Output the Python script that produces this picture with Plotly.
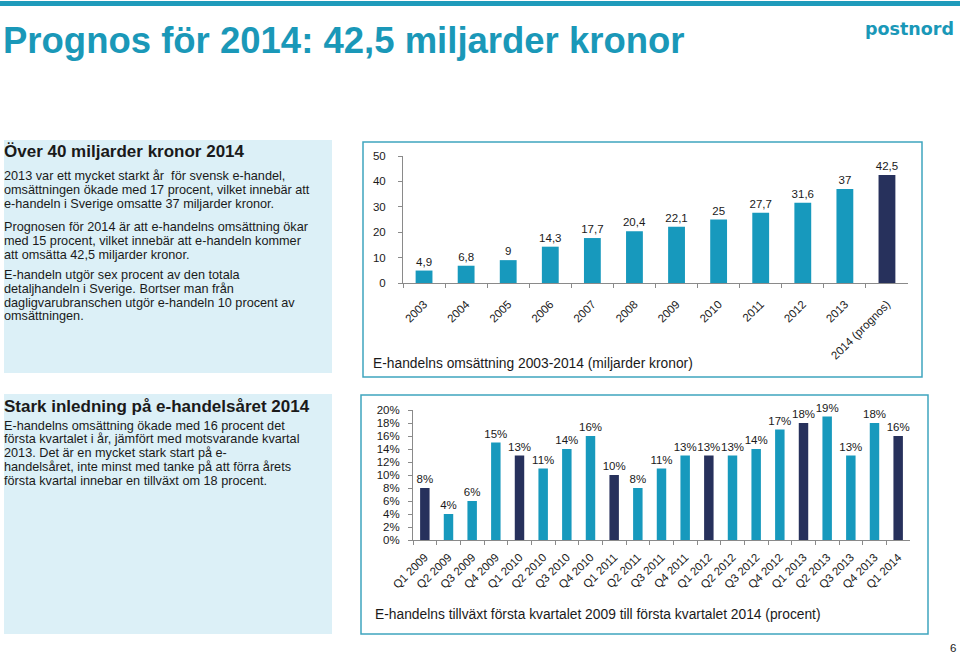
import plotly.graph_objects as go

W, H = 960, 654

# ---------------- data ----------------
years = ["2003", "2004", "2005", "2006", "2007", "2008", "2009", "2010",
         "2011", "2012", "2013", "2014 (prognos)"]
turnover = [4.9, 6.8, 9, 14.3, 17.7, 20.4, 22.1, 25, 27.7, 31.6, 37, 42.5]
turnover_forecast = [False] * 11 + [True]

quarters = ["Q1 2009", "Q2 2009", "Q3 2009", "Q4 2009",
            "Q1 2010", "Q2 2010", "Q3 2010", "Q4 2010",
            "Q1 2011", "Q2 2011", "Q3 2011", "Q4 2011",
            "Q1 2012", "Q2 2012", "Q3 2012", "Q4 2012",
            "Q1 2013", "Q2 2013", "Q3 2013", "Q4 2013",
            "Q1 2014"]
growth = [8, 4, 6, 15, 13, 11, 14, 16, 10, 8, 11, 13, 13, 13, 14, 17, 18, 19, 13, 18, 16]

title_text = "Prognos för 2014: 42,5 miljarder kronor"
box1_head = "Över 40 miljarder kronor 2014"
box1_lines = [
    "2013 var ett mycket starkt år  för svensk e-handel,",
    "omsättningen ökade med 17 procent, vilket innebär att",
    "e-handeln i Sverige omsatte 37 miljarder kronor.",
    "Prognosen för 2014 är att e-handelns omsättning ökar",
    "med 15 procent, vilket innebär att e-handeln kommer",
    "att omsätta 42,5 miljarder kronor.",
    "E-handeln utgör sex procent av den totala",
    "detaljhandeln i Sverige. Bortser man från",
    "dagligvarubranschen utgör e-handeln 10 procent av",
    "omsättningen.",
]
box2_head = "Stark inledning på e-handelsåret 2014"
box2_lines = [
    "E-handelns omsättning ökade med 16 procent det",
    "första kvartalet i år, jämfört med motsvarande kvartal",
    "2013. Det är en mycket stark start på e-",
    "handelsåret, inte minst med tanke på att förra årets",
    "första kvartal innebar en tillväxt om 18 procent.",
]
cap1 = "E-handelns omsättning 2003-2014 (miljarder kronor)"
cap2 = "E-handelns tillväxt första kvartalet 2009 till första kvartalet 2014 (procent)"

# ---------------- style ----------------
TEAL = "#1799bd"
NAVY = "#27315c"
FRAME = "#3fa5bf"
BOXFILL = "#dcf0f7"
TXT = "#1a1a1a"
FONT = "Liberation Sans, Arial, sans-serif"


def px(x):
    return x / W


def py(y):
    return 1 - y / H


fig = go.Figure()

fig.add_trace(go.Bar(
    x=years, y=turnover,
    marker=dict(color=[NAVY if f else TEAL for f in turnover_forecast], line=dict(width=0)),
    width=0.4,
    text=[f"{v:g}".replace(".", ",") for v in turnover],
    textposition="outside", constraintext="none", cliponaxis=False,
    textfont=dict(size=11.5, color=TXT, family=FONT),
    xaxis="x", yaxis="y", showlegend=False, hoverinfo="skip",
))

fig.add_trace(go.Bar(
    x=quarters, y=growth,
    marker=dict(color=[NAVY if q.startswith("Q1") else TEAL for q in quarters], line=dict(width=0)),
    width=0.4,
    text=[f"{v}%" for v in growth],
    textposition="outside", constraintext="none", cliponaxis=False,
    textfont=dict(size=11.5, color=TXT, family=FONT),
    xaxis="x2", yaxis="y2", showlegend=False, hoverinfo="skip",
))

axis_common = dict(showline=True, linecolor="#8a8a8a", linewidth=1, showgrid=False,
                   zeroline=False, ticks="outside", tickcolor="#8a8a8a", ticklen=4,
                   tickfont=dict(size=11.5, color=TXT, family=FONT))

fig.update_layout(
    width=W, height=H,
    margin=dict(l=0, r=0, t=0, b=0, pad=0, autoexpand=False),
    paper_bgcolor="white", plot_bgcolor="rgba(0,0,0,0)",
    bargap=0.6,
    xaxis=dict(domain=[px(403), px(908)], anchor="y", type="category",
               tickangle=-45, tickson="boundaries", ticklabelstandoff=9, **axis_common),
    yaxis=dict(domain=[py(283), py(156)], anchor="x", range=[0, 50], dtick=10,
               ticklabelstandoff=10, **axis_common),
    xaxis2=dict(domain=[px(413), px(910)], anchor="y2", type="category",
                tickangle=-45, tickson="boundaries", ticklabelstandoff=5, **axis_common),
    yaxis2=dict(domain=[py(540), py(410)], anchor="x2", range=[0, 20], dtick=2,
                ticksuffix="%", ticklabelstandoff=6, **axis_common),
)

shapes = [
    # top bar
    dict(type="rect", xref="paper", yref="paper", x0=0, x1=1, y0=py(6), y1=py(1),
         fillcolor="#1f9bbb", line=dict(width=0), layer="below"),
    # text boxes
    dict(type="rect", xref="paper", yref="paper", x0=px(4), x1=px(332), y0=py(373), y1=py(140),
         fillcolor=BOXFILL, line=dict(width=0), layer="below"),
    dict(type="rect", xref="paper", yref="paper", x0=px(4), x1=px(332), y0=py(634), y1=py(394),
         fillcolor=BOXFILL, line=dict(width=0), layer="below"),
    # chart frames
    dict(type="rect", xref="paper", yref="paper", x0=px(363), x1=px(922), y0=py(377), y1=py(142),
         fillcolor="rgba(0,0,0,0)", line=dict(width=1.5, color=FRAME), layer="below"),
    dict(type="rect", xref="paper", yref="paper", x0=px(361), x1=px(928), y0=py(634), y1=py(395),
         fillcolor="rgba(0,0,0,0)", line=dict(width=1.5, color=FRAME), layer="below"),
]

ann = []


def txt(x, y, s, size=12, color=TXT, bold=False, family=FONT, xanchor="left"):
    ann.append(dict(x=px(x), y=py(y), xref="paper", yref="paper", text=f"<b>{s}</b>" if bold else s,
                    showarrow=False, xanchor=xanchor, yanchor="middle", borderpad=0,
                    font=dict(size=size, color=color, family=family)))


txt(2, 40, title_text, size=36.5, color="#1a98b8", bold=True)
txt(955, 29, "postnord", size=17.5, color="#1a98b8", bold=True,
    family="DejaVu Sans, Liberation Sans", xanchor="right")

txt(3, 151, box1_head, size=17, bold=True)
for s, y in zip(box1_lines, [176, 189.8, 203.6, 227, 240.8, 254.6, 275, 288.8, 302.6, 316.4]):
    txt(3, y, s, size=12.7)

txt(3, 406, box2_head, size=17, bold=True)
for s, y in zip(box2_lines, [425.5, 439.3, 453.1, 466.9, 480.7]):
    txt(3, y, s, size=12.7)

txt(372, 363, cap1, size=13.8)
txt(374, 614, cap2, size=13.8)
txt(953, 648, "6", size=11.5, xanchor="center")

fig.update_layout(shapes=shapes, annotations=ann)

fig.write_html(
    "out.html",
    config={"displayModeBar": False},
    post_script="document.body.style.margin='0';document.body.style.padding='0';"
                "document.documentElement.style.overflow='hidden';",
)
